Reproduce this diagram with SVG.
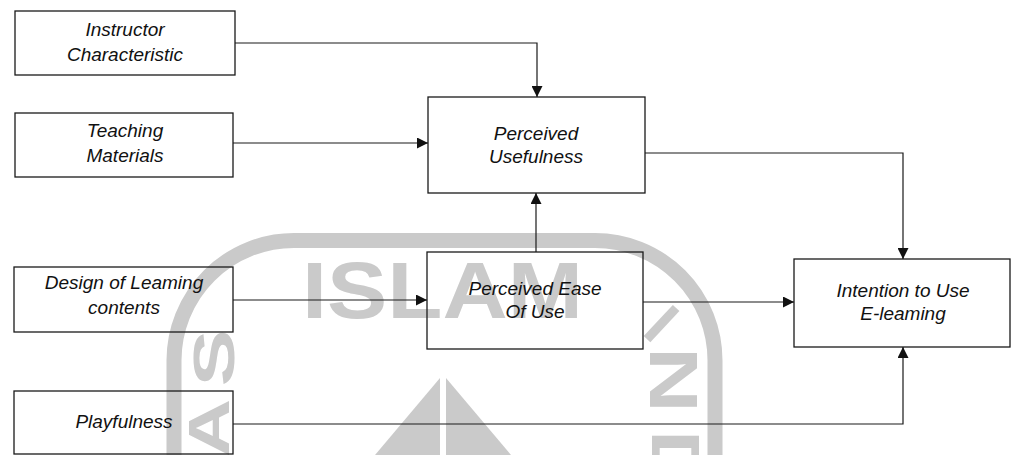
<svg xmlns="http://www.w3.org/2000/svg" width="1012" height="455" viewBox="0 0 1012 455">
  <style>
    .box { fill: none; stroke: #1a1a1a; stroke-width: 1.3; }
    .lbl { font-family: "Liberation Sans", Arial, sans-serif; font-style: italic; font-size: 19px; fill: #111; text-anchor: middle; }
    .conn { fill: none; stroke: #1a1a1a; stroke-width: 1.2; marker-end: url(#arrow); }
    .wm { fill: #cacaca; font-family: "Liberation Sans", Arial, sans-serif; font-weight: bold; }
  </style>
  <defs>
    <marker id="arrow" viewBox="0 0 10 10" refX="10" refY="5" markerWidth="13" markerHeight="11" markerUnits="userSpaceOnUse" orient="auto">
      <path d="M0,0 L10,5 L0,10 z" fill="#111"/>
    </marker>
  </defs>
  <rect width="1012" height="455" fill="#ffffff"/>

  <g id="watermark">
    <path d="M174 460 V360 A120 120 0 0 1 294 240.5 H595 A120 120 0 0 1 715 360.5 V460" fill="none" stroke="#cacaca" stroke-width="15"/>
    <text class="wm" x="302" y="318" font-size="80" textLength="281" lengthAdjust="spacingAndGlyphs">ISLAM</text>
    <text class="wm" font-size="58" text-anchor="middle" transform="translate(213,358) rotate(-90)" y="21" textLength="57" lengthAdjust="spacingAndGlyphs">S</text>
    <text class="wm" font-size="58" text-anchor="middle" transform="translate(208,428) rotate(-90)" y="21" textLength="58" lengthAdjust="spacingAndGlyphs">A</text>
    <text class="wm" font-size="62" text-anchor="middle" transform="translate(662,323) rotate(43)" y="22">I</text>
    <text class="wm" font-size="68" transform="translate(650,347) rotate(90)" textLength="66" lengthAdjust="spacingAndGlyphs">N</text>
    <text class="wm" font-size="68" transform="translate(652,430) rotate(90)" textLength="62" lengthAdjust="spacingAndGlyphs">D</text>
    <polygon points="440,378 440,455 375,455" fill="#cacaca"/>
    <polygon points="446,378 446,455 511,455" fill="#cacaca"/>
  </g>

  <g id="node-instructor">
    <rect class="box" x="15" y="11" width="220" height="64"/>
    <text class="lbl" x="125" y="36">Instructor</text>
    <text class="lbl" x="125" y="61">Characteristic</text>
  </g>
  <g id="node-teaching">
    <rect class="box" x="15" y="113" width="218" height="64"/>
    <text class="lbl" x="125" y="137">Teaching</text>
    <text class="lbl" x="125" y="162">Materials</text>
  </g>
  <g id="node-design">
    <rect class="box" x="14" y="267" width="219" height="65"/>
    <text class="lbl" x="124" y="289">Design of Leaming</text>
    <text class="lbl" x="124" y="314">contents</text>
  </g>
  <g id="node-playfulness">
    <rect class="box" x="14" y="391" width="219" height="63"/>
    <text class="lbl" x="124" y="428">Playfulness</text>
  </g>
  <g id="node-pu">
    <rect class="box" x="428" y="97" width="217" height="96"/>
    <text class="lbl" x="536" y="140">Perceived</text>
    <text class="lbl" x="536" y="163">Usefulness</text>
  </g>
  <g id="node-peou">
    <rect class="box" x="427" y="252" width="216" height="97"/>
    <text class="lbl" x="535" y="295">Perceived Ease</text>
    <text class="lbl" x="535" y="318">Of Use</text>
  </g>
  <g id="node-intention">
    <rect class="box" x="794" y="259" width="216" height="88"/>
    <text class="lbl" x="903" y="297">Intention to Use</text>
    <text class="lbl" x="903" y="320">E-leaming</text>
  </g>

  <g id="connectors">
    <path class="conn" d="M235 43 H537 V97"/>
    <path class="conn" d="M233 143 H428"/>
    <path class="conn" d="M536 252 V193"/>
    <path class="conn" d="M233 300 H427"/>
    <path class="conn" d="M645 153 H903 V259"/>
    <path class="conn" d="M643 302 H794"/>
    <path class="conn" d="M233 424 H903 V347"/>
  </g>
</svg>
